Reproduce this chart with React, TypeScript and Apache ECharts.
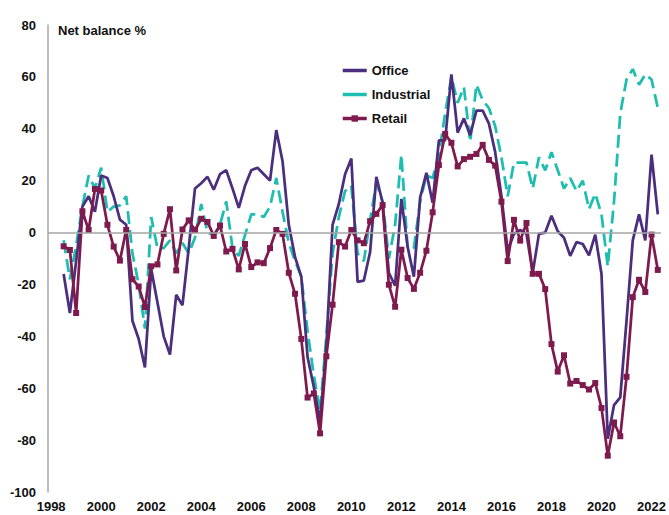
import React, { useEffect, useRef } from "react";
import * as echarts from "echarts";

// Quarterly categories 1998 Q1 .. 2022 Q2
const years: number[] = [];
for (let y = 1998; y <= 2022; y++) years.push(y);
const categories: string[] = [];
years.forEach((y) => {
  for (let q = 1; q <= 4; q++) {
    if (y === 2022 && q > 2) break;
    categories.push(`${y} Q${q}`);
  }
});

// Data start at 1998 Q3
const startIndex = 2;

const office = [
  -16, -31, -11, 10, 14, 8, 22, 21, 14, 5, 3, -34, -41, -52, -14, -27,
  -40, -47, -24, -28, -6, 17, 19, 21.5, 16.5, 22.5, 24, 17, 9.5, 18, 24, 25,
  22.5, 20, 39.5, 27.5, 3, -9.5, -17, -48, -59.5, -73, -44, 3, 11, 22.5, 28.5, -19,
  -18.5, -7.5, 21.5, 11.5, -15.5, -20.5, 13, -5.5, -17, 13.5, 23, 11.5, 35.5, 35.5, 61, 38.5,
  44, 37.5, 47, 47, 42, 31, 14, -7, -0.5, 1, -0.5, -15.5, -0.5, 0, 6.5, 0.5,
  -2, -9, -3.7, -4.4, -8.8, -0.8, -16, -79.5, -66.5, -63.5, -34, -3, 7, -3, 30, 7,
];

const industrial = [
  -3, -18, -5, 10, 22, 17, 25, 8, 10, 10.5, 14, -8, -20, -37, 6, -6,
  -6, -3, -8, -4, -8, -2, 11, 0, -1, 3, 12, -6, -9, -1, 7, 7,
  6, 10, 21, 8, -4, -11, -17, -38, -55, -69, -40, -8, 6, 16, 18, -8,
  -11, 5, 19, 12, -10, 3, 30, -6, -6, 12, 22, 21, 30, 46, 60, 50,
  56, 35, 57, 51, 48, 41, 29, 14, 27, 27, 27, 17, 29, 24, 31, 24,
  17, 21, 16, 20, 9, 15, 7, -13, 12, 46, 59, 63, 57, 61, 59, 48,
];

const retail = [
  -5.3, -6.7, -31, 8.2, 1, 16.8, 16.2, 3, -5.4, -10.8, 1, -18, -20.8, -28.7, -13, -12.3,
  -0.5, 9, -14.6, 1.2, 4.7, 0.9, 5.3, 4.1, -1.3, 2.7, -7.3, -6.3, -14.2, -4.4, -13.3, -11.5,
  -11.8, -6, 1, -0.5, -15.5, -23.6, -41, -63.6, -62, -77.4, -47.7, -27.8, -3.7, -5.4, 1, -3,
  -4.1, 4.4, 7.2, 10.6, -20.1, -28.6, -6.6, -17.5, -21.7, -15.5, -7, 7.8, 26, 38, 34.6, 25.5,
  28.3, 29.2, 30.3, 33.8, 28, 25.8, 11.9, -11, 4.9, -3.1, 3.7, -15.9, -15.9, -21.8, -43, -53.6,
  -47.3, -58.2, -57.2, -58.8, -60.5, -58, -67.6, -86, -73.2, -78.5, -55.6, -24.9, -18.2, -22.9, -0.8, -14.4,
];

const yTicks = { min: -100, max: 80, interval: 20 };

const pad = (arr: number[]) => {
  const out: (number | null)[] = [];
  for (let i = 0; i < startIndex; i++) out.push(null);
  return out.concat(arr);
};

const FONT = "'Liberation Sans', Arial, sans-serif";
const C_OFFICE = "#4B2E7D";
const C_IND = "#1DBDAF";
const C_RETAIL = "#7E1A4D";

export default function App() {
  const ref = useRef<HTMLDivElement>(null);
  useEffect(() => {
    if (!ref.current) return;
    const chart = echarts.init(ref.current, undefined, { renderer: "svg" });
    chart.setOption({
      animation: false,
      backgroundColor: "#ffffff",
      title: {
        text: "Net balance %",
        left: 53,
        top: 19,
        textStyle: { fontFamily: FONT, fontWeight: "bold", fontSize: 13, color: "#111" },
      },
      legend: {
        orient: "vertical",
        left: 336,
        top: 59,
        itemWidth: 24,
        itemHeight: 8,
        itemGap: 11,
        lineStyle: { width: 3.5 },
        data: [
          { name: "Office", itemStyle: { opacity: 0 } },
          { name: "Industrial", itemStyle: { opacity: 0 }, lineStyle: { type: "solid" } },
          { name: "Retail" },
        ],
        textStyle: { fontFamily: FONT, fontWeight: "bold", fontSize: 13, color: "#111" },
      },
      grid: { left: 48, right: 6.5, top: 25, bottom: 23, containLabel: false },
      xAxis: {
        type: "category",
        data: categories,
        boundaryGap: true,
        axisLine: { show: false },
        axisTick: { show: false },
        splitLine: { show: false },
        axisLabel: {
          interval: 7,
          margin: 8,
          formatter: (v: string) => v.slice(0, 4),
          fontFamily: FONT,
          fontWeight: "bold",
          fontSize: 13,
          color: "#111",
        },
      },
      yAxis: {
        type: "value",
        min: yTicks.min,
        max: yTicks.max,
        interval: yTicks.interval,
        axisLine: { show: true, lineStyle: { color: "#A6A6A6", width: 1.5 } },
        axisTick: { show: false },
        splitLine: { show: false },
        axisLabel: {
          margin: 12,
          fontFamily: FONT,
          fontWeight: "bold",
          fontSize: 13,
          color: "#111",
        },
      },
      series: [
        {
          name: "zero",
          type: "line",
          data: [],
          z: 1,
          silent: true,
          markLine: {
            silent: true,
            symbol: "none",
            label: { show: false },
            lineStyle: { color: "#A6A6A6", width: 1.5, type: "solid" },
            data: [{ yAxis: 0 }],
          },
        },
        {
          name: "Office",
          type: "line",
          data: pad(office),
          z: 3,
          showSymbol: false,
          symbol: "none",
          color: C_OFFICE,
          lineStyle: { width: 2.75, color: C_OFFICE },
        },
        {
          name: "Industrial",
          type: "line",
          data: pad(industrial),
          z: 2,
          showSymbol: false,
          symbol: "none",
          color: C_IND,
          lineStyle: { width: 2.75, color: C_IND, type: [13, 6] },
        },
        {
          name: "Retail",
          type: "line",
          data: pad(retail),
          z: 4,
          symbol: "rect",
          symbolSize: 6,
          showAllSymbol: true,
          color: C_RETAIL,
          itemStyle: { color: C_RETAIL },
          lineStyle: { width: 2.75, color: C_RETAIL },
        },
      ],
    });
    return () => chart.dispose();
  }, []);
  return (
    <div
      ref={ref}
      style={{ position: "fixed", left: 0, top: 0, width: 669, height: 515 }}
    />
  );
}
